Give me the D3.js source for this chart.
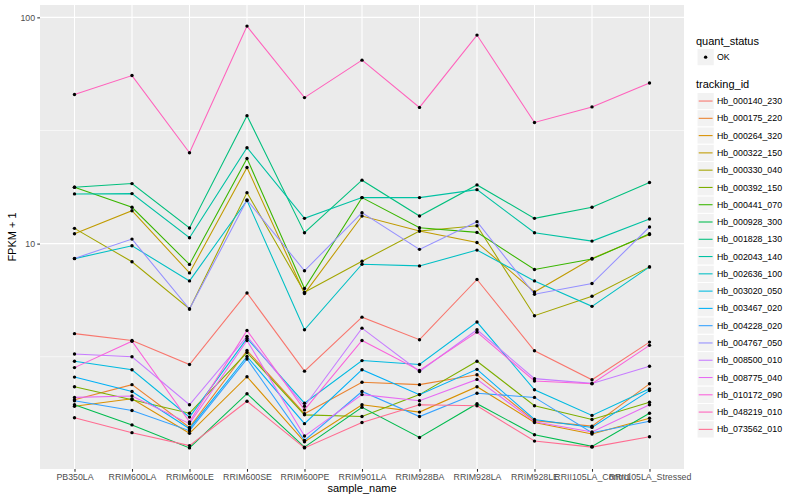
<!DOCTYPE html>
<html>
<head>
<meta charset="utf-8">
<script src="https://cdn.jsdelivr.net/npm/d3@7.9.0/dist/d3.min.js"></script>
<style>
  body { margin: 0; background: #fff; }
  svg { font-family: "Liberation Sans", Arial, sans-serif; }
</style>
</head>
<body>
<svg id="chart" width="800" height="500"></svg>
<script>
const samples = ['PB350LA', 'RRIM600LA', 'RRIM600LE', 'RRIM600SE', 'RRIM600PE', 'RRIM901LA',
  'RRIM928BA', 'RRIM928LA', 'RRIM928LE', 'RRII105LA_Control', 'RRII105LA_Stressed'];

const trackingIds = ['Hb_000140_230', 'Hb_000175_220', 'Hb_000264_320', 'Hb_000322_150', 'Hb_000330_040',
  'Hb_000392_150', 'Hb_000441_070', 'Hb_000928_300', 'Hb_001828_130', 'Hb_002043_140',
  'Hb_002636_100', 'Hb_003020_050', 'Hb_003467_020', 'Hb_004228_020', 'Hb_004767_050',
  'Hb_008500_010', 'Hb_008775_040', 'Hb_010172_090', 'Hb_048219_010', 'Hb_073562_010'];

// FPKM + 1, one value per sample (same order as samples)
const hb000140_230 = [4.00, 3.73, 2.92, 6.05, 2.73, 4.73, 3.76, 6.94, 3.36, 2.50, 3.67];
const hb000175_220 = [2.04, 2.38, 1.54, 3.37, 1.77, 2.44, 2.38, 2.63, 1.65, 1.56, 2.40];
const hb000264_320 = [1.91, 2.06, 1.45, 2.58, 1.33, 1.94, 1.80, 2.33, 1.62, 1.44, 1.69];
const hb000322_150 = [11.05, 13.98, 7.42, 21.68, 6.01, 13.24, 11.36, 10.12, 6.11, 8.60, 10.96];
const hb000330_040 = [11.68, 8.31, 5.14, 16.80, 6.10, 8.36, 11.36, 11.99, 4.80, 5.85, 7.89];
const hb000392_150 = [2.33, 2.04, 1.78, 3.30, 1.75, 1.72, 2.15, 3.02, 1.92, 1.67, 1.99];
const hb000441_070 = [17.75, 14.47, 8.09, 23.77, 6.33, 15.97, 11.75, 11.21, 7.68, 8.54, 11.05];
const hb000928_300 = [1.94, 1.58, 1.25, 2.17, 1.26, 1.89, 1.39, 1.96, 1.43, 1.27, 1.78];
const hb001828_130 = [17.75, 18.42, 11.72, 36.77, 11.17, 19.07, 13.24, 18.17, 12.93, 14.47, 18.61];
const hb002043_140 = [16.58, 16.63, 10.61, 26.52, 12.93, 15.97, 15.97, 17.32, 11.17, 10.26, 12.84];
const hb002636_100 = [8.58, 9.78, 6.84, 15.51, 4.16, 8.11, 7.97, 9.36, 6.84, 5.28, 7.89];
const hb003020_050 = [3.02, 2.77, 1.71, 3.81, 1.97, 3.04, 2.92, 4.50, 2.26, 1.74, 2.28];
const hb003467_020 = [2.57, 2.22, 1.52, 3.17, 1.60, 2.77, 2.15, 2.78, 1.67, 1.54, 2.24];
const hb004228_020 = [2.02, 1.83, 1.49, 3.09, 1.35, 2.22, 1.72, 2.18, 2.09, 1.46, 1.64];
const hb004767_050 = [8.60, 10.47, 5.14, 15.59, 7.58, 13.70, 9.43, 12.50, 5.97, 6.66, 11.84];
const hb008500_010 = [3.25, 3.16, 1.94, 3.89, 1.91, 4.23, 2.72, 4.16, 2.53, 2.41, 2.87];
const hb008775_040 = [2.09, 2.12, 1.60, 3.73, 1.41, 2.15, 2.02, 2.51, 1.63, 1.47, 1.94];
const hb010172_090 = [2.83, 3.70, 1.63, 4.13, 1.84, 3.73, 2.75, 4.06, 2.47, 2.40, 3.55];
const hb048219_010 = [45.6, 55.3, 25.2, 91.5, 44.2, 64.7, 40.0, 83.5, 34.3, 40.2, 51.3];
const hb073562_010 = [1.70, 1.46, 1.28, 2.01, 1.25, 1.62, 1.94, 1.92, 1.34, 1.26, 1.40];

const seriesValues = [hb000140_230, hb000175_220, hb000264_320, hb000322_150, hb000330_040,
  hb000392_150, hb000441_070, hb000928_300, hb001828_130, hb002043_140,
  hb002636_100, hb003020_050, hb003467_020, hb004228_020, hb004767_050,
  hb008500_010, hb008775_040, hb010172_090, hb048219_010, hb073562_010];

const yBreaks = [10, 100];

// ggplot hue palette for 20 levels
const palette = ['#F8766D', '#EA8331', '#D89000', '#C09B00', '#A3A500', '#7CAE00', '#39B600', '#00BB4E',
  '#00BF7D', '#00C1A3', '#00BFC4', '#00BAE0', '#00B0F6', '#35A2FF', '#9590FF', '#C77CFF',
  '#E76BF3', '#FA62DB', '#FF62BC', '#FF6C91'];

const series = trackingIds.map((id, i) => ({
  id,
  values: seriesValues[i].map((v, j) => ({ sample: samples[j], value: v }))
}));
const allPoints = series.flatMap(s => s.values);

const svg = d3.select('#chart');
const panel = { left: 40, right: 684, top: 5, bottom: 469 };

const color = d3.scaleOrdinal().domain(trackingIds).range(palette);

const x = d3.scalePoint()
  .domain(samples)
  .range([panel.left, panel.right])
  .padding(0.6);

// log scale with ggplot-like 5% expansion in log space
const ext = d3.extent(allPoints, d => Math.log10(d.value));
const pad = (ext[1] - ext[0]) * 0.05;
const y = d3.scaleLog()
  .domain([10 ** (ext[0] - pad), 10 ** (ext[1] + pad)])
  .range([panel.bottom, panel.top]);

// panel background
svg.append('rect')
  .attr('x', panel.left).attr('y', panel.top)
  .attr('width', panel.right - panel.left).attr('height', panel.bottom - panel.top)
  .attr('fill', '#EBEBEB');

const grid = svg.append('g');
// minor y gridlines halfway between decades (log space)
const minorBreaks = [Math.sqrt(10), Math.sqrt(1000)];
grid.selectAll('.minor')
  .data(minorBreaks.filter(v => v >= y.domain()[0] && v <= y.domain()[1]))
  .join('line')
  .attr('x1', panel.left).attr('x2', panel.right)
  .attr('y1', d => y(d)).attr('y2', d => y(d))
  .attr('stroke', '#fff').attr('stroke-width', 0.55);
grid.selectAll('.major-y')
  .data(yBreaks)
  .join('line')
  .attr('x1', panel.left).attr('x2', panel.right)
  .attr('y1', d => y(d)).attr('y2', d => y(d))
  .attr('stroke', '#fff').attr('stroke-width', 1.07);
grid.selectAll('.major-x')
  .data(samples)
  .join('line')
  .attr('x1', d => x(d)).attr('x2', d => x(d))
  .attr('y1', panel.top).attr('y2', panel.bottom)
  .attr('stroke', '#fff').attr('stroke-width', 1.07);

// lines
const line = d3.line()
  .x(d => x(d.sample))
  .y(d => y(d.value));

svg.append('g')
  .selectAll('path')
  .data(series)
  .join('path')
  .attr('d', d => line(d.values))
  .attr('fill', 'none')
  .attr('stroke', d => color(d.id))
  .attr('stroke-width', 1.07);

// points
svg.append('g')
  .selectAll('circle')
  .data(allPoints)
  .join('circle')
  .attr('cx', d => x(d.sample))
  .attr('cy', d => y(d.value))
  .attr('r', 1.7)
  .attr('fill', '#000');

// axes
const yAxis = svg.append('g')
  .attr('transform', `translate(${panel.left},0)`)
  .call(d3.axisLeft(y).tickValues(yBreaks).tickFormat(d3.format('d')).tickSize(2.74).tickPadding(2.2));
const xAxis = svg.append('g')
  .attr('transform', `translate(0,${panel.bottom})`)
  .call(d3.axisBottom(x).tickSize(2.74).tickPadding(2.2));

[yAxis, xAxis].forEach(ax => {
  ax.select('.domain').remove();
  ax.selectAll('.tick line').attr('stroke', '#333333').attr('stroke-width', 1.07);
  ax.selectAll('.tick text')
    .attr('fill', '#4D4D4D')
    .style('font-size', '8.8px')
    .style('font-family', '"Liberation Sans", Arial, sans-serif');
});

svg.append('text')
  .attr('x', (panel.left + panel.right) / 2)
  .attr('y', 492)
  .attr('text-anchor', 'middle')
  .style('font-size', '11px')
  .text('sample_name');

svg.append('text')
  .attr('transform', `translate(16,${(panel.top + panel.bottom) / 2}) rotate(-90)`)
  .attr('text-anchor', 'middle')
  .style('font-size', '11px')
  .text('FPKM + 1');

// legends
const legendX = 696;
const keySize = 17.28;
const legend = svg.append('g');

legend.append('text')
  .attr('x', legendX).attr('y', 44.5)
  .style('font-size', '11px')
  .text('quant_status');

const okKey = legend.append('g').attr('transform', `translate(${legendX + 1},${48.5})`);
okKey.append('rect')
  .attr('width', keySize).attr('height', keySize)
  .attr('fill', '#F2F2F2').attr('stroke', '#fff').attr('stroke-width', 1);
okKey.append('circle')
  .attr('cx', keySize / 2).attr('cy', keySize / 2).attr('r', 1.7).attr('fill', '#000');
okKey.append('text')
  .attr('x', keySize + 2.7).attr('y', keySize / 2 + 3.1)
  .style('font-size', '8.8px')
  .text('OK');

legend.append('text')
  .attr('x', legendX).attr('y', 88)
  .style('font-size', '11px')
  .text('tracking_id');

const keys = legend.selectAll('.key')
  .data(trackingIds)
  .join('g')
  .attr('class', 'key')
  .attr('transform', (d, i) => `translate(${legendX + 1},${92.4 + i * keySize})`);

keys.append('rect')
  .attr('width', keySize).attr('height', keySize)
  .attr('fill', '#F2F2F2').attr('stroke', '#fff').attr('stroke-width', 1);
keys.append('line')
  .attr('x1', 1.7).attr('x2', keySize - 1.7)
  .attr('y1', keySize / 2).attr('y2', keySize / 2)
  .attr('stroke', d => color(d)).attr('stroke-width', 1.07);
keys.append('text')
  .attr('x', keySize + 2.7).attr('y', keySize / 2 + 3.1)
  .style('font-size', '8.8px')
  .text(d => d);
</script>
</body>
</html>
